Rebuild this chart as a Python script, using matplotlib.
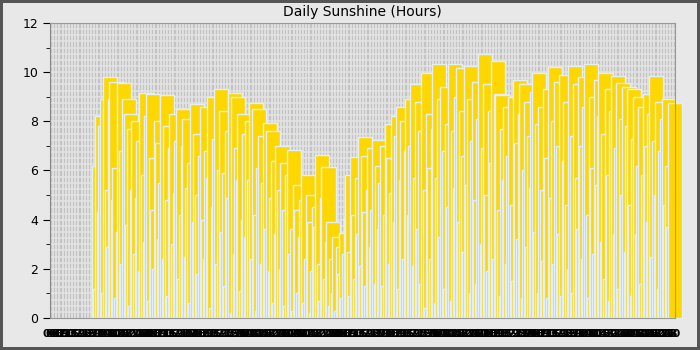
import numpy as np
import pandas as pd
import matplotlib
matplotlib.use("Agg")
import matplotlib.pyplot as plt
import matplotlib.dates as mdates

# daily sunshine hours, 2023-01-01 .. 2023-12-31
sunshine = [
    6.2, 1.2, 8.2, 4.3, 7.8, 8.9, 1.0, 9.8, 5.2, 2.9,
    8.9, 9.6, 4.8, 6.1, 0.8, 3.5, 9.55, 6.8, 2.2, 8.9,
    8.3, 3.8, 7.7, 0.5, 5.2, 8.0, 2.6, 4.9, 7.2, 1.9,
    9.15, 5.8, 3.1, 8.2, 9.1, 0.7, 6.5, 4.4, 2.0, 8.0,
    7.1, 3.2, 5.5, 9.05, 2.4, 7.8, 4.8, 0.9, 6.9, 8.3,
    3.0, 5.1, 7.2, 8.5, 1.6, 4.2, 7.0, 8.1, 2.5, 5.3,
    6.3, 0.6, 8.7, 3.9, 7.5, 5.0, 1.8, 6.6, 8.6, 4.0,
    2.4, 6.8, 5.7, 9.0, 0.4, 4.5, 7.3, 9.3, 2.2, 6.0,
    8.4, 3.5, 5.9, 1.3, 7.6, 4.9, 9.15, 0.2, 9.0, 2.6,
    6.9, 5.6, 8.3, 1.1, 4.0, 7.5, 3.3, 8.0, 5.6, 8.75,
    2.4, 8.5, 4.2, 0.3, 6.1, 7.4, 2.2, 5.5, 7.95, 3.6,
    7.6, 1.9, 4.9, 6.4, 0.6, 3.4, 7.0, 5.2, 2.0, 6.3,
    4.4, 0.5, 5.8, 6.85, 2.6, 3.6, 0.3, 5.4, 4.4, 1.0,
    3.3, 4.8, 5.8, 0.6, 2.4, 5.0, 3.9, 0.2, 1.9, 4.5,
    3.7, 6.65, 2.2, 0.7, 4.9, 6.15, 1.6, 3.1, 3.9, 0.5,
    2.4, 1.0, 3.3, 0.3, 2.9, 1.8, 3.45, 0.8, 2.6, 4.1,
    5.8, 2.7, 0.9, 6.55, 4.2, 1.6, 5.7, 3.4, 7.35, 2.1,
    6.6, 4.3, 1.3, 5.2, 6.9, 2.9, 4.4, 7.25, 1.4, 6.2,
    3.6, 5.5, 7.0, 1.3, 4.2, 7.9, 6.5, 2.2, 5.1, 8.2,
    3.9, 7.4, 8.6, 1.2, 5.6, 8.0, 2.4, 6.8, 8.9, 4.2,
    7.0, 9.5, 2.1, 5.7, 8.8, 3.6, 7.6, 1.4, 9.95, 5.2,
    0.4, 8.3, 6.1, 2.4, 7.7, 10.35, 0.6, 5.7, 8.9, 3.3,
    9.4, 6.8, 1.2, 7.9, 4.5, 10.35, 0.7, 7.6, 5.3, 9.0,
    10.15, 3.9, 8.4, 6.6, 2.7, 10.25, 5.4, 8.9, 1.0, 7.2,
    9.6, 4.8, 1.4, 8.1, 10.75, 3.0, 6.9, 9.5, 5.0, 1.9,
    8.4, 6.3, 10.45, 2.4, 9.1, 9.05, 4.4, 0.9, 7.7, 5.6,
    8.6, 2.2, 6.6, 9.0, 4.6, 1.5, 9.7, 7.1, 3.2, 8.3,
    9.5, 0.8, 6.0, 8.8, 2.9, 7.4, 5.3, 9.2, 9.95, 3.5,
    7.9, 1.0, 8.6, 5.2, 2.3, 9.3, 6.5, 0.8, 10.2, 4.9,
    8.0, 2.2, 9.6, 7.0, 3.4, 9.9, 0.9, 6.4, 8.8, 4.6,
    2.0, 10.25, 7.4, 1.0, 9.5, 5.7, 3.6, 9.8, 7.0, 2.4,
    8.6, 10.35, 4.2, 0.8, 9.0, 6.1, 2.6, 9.7, 5.4, 8.2,
    9.95, 3.1, 7.5, 1.6, 9.3, 5.8, 0.7, 8.4, 9.85, 3.4,
    6.9, 9.55, 1.2, 8.1, 5.0, 9.4, 2.7, 7.8, 9.3, 4.6,
    0.9, 7.3, 9.0, 3.4, 6.2, 8.6, 1.4, 5.8, 9.1, 7.0,
    3.9, 8.3, 9.85, 2.5, 7.2, 5.0, 8.8, 1.2, 6.8, 8.1,
    8.9, 4.6, 6.2, 3.7, 8.75,
]
dates = pd.date_range("2023-01-01", periods=len(sunshine), freq="D")
x_start = pd.Timestamp("2022-12-01")
x_end = pd.Timestamp("2023-12-31")
ticks = pd.date_range(x_start, x_end, freq="2D")

fig = plt.figure(figsize=(7, 3.5), dpi=100)
fig.patch.set_facecolor("#e8e8e8")
fig.patch.set_edgecolor("#555555")
fig.patch.set_linewidth(4)
ax = fig.add_axes([0.0714, 0.0914, 0.8929, 0.843])
ax.set_facecolor("#c3c3c3")

# dense background grid
for y in np.arange(0.25, 12, 0.25):
    ax.axhline(y, color="#e4e4e4", lw=1.1, zorder=0)
ax.set_xticks(mdates.date2num(ticks))
ax.grid(axis="x", color="#e4e4e4", lw=1.2, zorder=0)
ax.set_axisbelow(True)

bars = ax.bar(dates, sunshine, width=9, color="#ffd700",
              edgecolor="#e2eefa", linewidth=1.0, zorder=2)
for b in bars:
    b.set_clip_on(False)

ax.set_xlim(x_start, x_end)
ax.set_ylim(0, 12)
ax.set_yticks(np.arange(0, 13, 2))
ax.set_yticks(np.arange(1, 12, 2), minor=True)
ax.tick_params(axis="y", which="major", length=5, labelsize=9, color="black")
ax.tick_params(axis="y", which="minor", length=3, color="black")
ax.xaxis.set_major_formatter(mdates.DateFormatter("%d"))
ax.tick_params(axis="x", length=0, labelsize=8, pad=8, labelcolor="black")
for lbl in ax.get_xticklabels():
    lbl.set_fontweight("bold")

for side in ["top", "right", "bottom"]:
    ax.spines[side].set_color("#999999")
ax.spines["left"].set_color("#888888")

ax.set_title("Daily Sunshine (Hours)", fontsize=10, pad=5)

fig.savefig("out.png", dpi=100, facecolor=fig.get_facecolor(),
            edgecolor=fig.get_edgecolor())
